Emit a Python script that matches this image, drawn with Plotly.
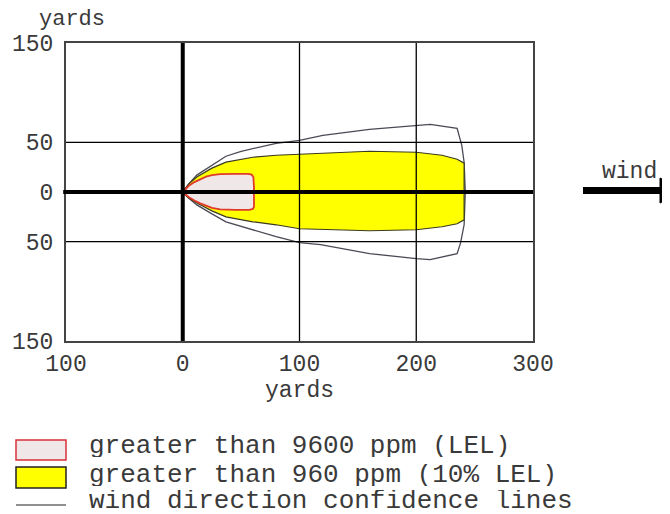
import plotly.graph_objects as go

# threat zone outlines (yards downwind / crosswind)
conf_x = [0, 5, 12, 25, 37, 50, 80, 100, 120, 160, 200, 212, 235, 239, 241, 242,
          241, 238, 235, 212, 200, 160, 118, 100, 80, 37, 25, 12, 5, 0]
conf_y = [0, 8, 17, 27, 36, 41, 49, 52, 57, 63, 67, 68, 64, 47, 30, 0,
          -33, -51, -62, -68, -67, -62, -53, -51, -45, -30, -22, -13, -6, 0]

yellow_x = [0, 5, 12, 25, 37, 60, 80, 100, 120, 160, 200, 222, 235, 241,
            241, 235, 222, 200, 160, 120, 100, 80, 60, 37, 25, 12, 5, 0]
yellow_y = [0, 8, 15, 24, 30, 35, 37, 38, 39, 41, 40, 37, 33, 29,
            -28, -32, -35, -38, -39, -37.5, -37, -33, -30, -25, -19, -11, -6, 0]

red_x = [0, 5, 10, 15, 20, 25, 32, 45, 56, 59, 60.5, 61,
         61, 60, 57, 45, 32, 25, 20, 15, 10, 5, 0]
red_y = [0, 6, 10, 13, 15.5, 17, 18, 18.3, 18.3, 17.5, 15, 5,
         -15, -17, -18, -18, -17.5, -16, -14, -11.5, -8.5, -5, 0]

x_ticks = [-100, 0, 100, 200, 300]
x_labels = ['100', '0', '100', '200', '300']
y_ticks = [150, 50, 0, -50, -150]
y_labels = ['150', '50', '0', '50', '150']

legend_labels = ['greater than 9600 ppm (LEL)',
                 'greater than 960 ppm (10% LEL)',
                 'wind direction confidence lines']

FONT = 'Liberation Mono, Courier New, monospace'
TXT = '#3a3a3a'

# page body adds an 8px margin, so the figure is placed 8px in from the corner
OFF = 8
W, H = 670 - OFF, 514 - OFF
# plot area in page pixels
L, T, PW, PH = 66, 43, 467, 298


def px_x(p):
    return (p - L) / PW


def px_y(p):
    return (T + PH - p) / PH


fig = go.Figure()

fig.add_trace(go.Scatter(
    x=conf_x, y=conf_y, mode='lines',
    line=dict(color='#4a4a55', width=1.3),
    hoverinfo='skip'
))

fig.add_trace(go.Scatter(
    x=yellow_x, y=yellow_y, mode='lines', fill='toself',
    fillcolor='#ffff00', line=dict(color='#3a3a20', width=1.2),
    hoverinfo='skip'
))

fig.add_trace(go.Scatter(
    x=red_x, y=red_y, mode='lines', fill='toself',
    fillcolor='#f0e8e8', line=dict(color='#e03a2a', width=1.8),
    hoverinfo='skip'
))

shapes = []
# inner grid lines, drawn over the zones
for v in x_ticks[1:-1]:
    if v == 0:
        continue
    shapes.append(dict(type='line', xref='x', yref='paper', x0=v, x1=v, y0=0, y1=1,
                       line=dict(color='black', width=1.3), layer='above'))
for v in y_ticks[1:-1]:
    if v == 0:
        continue
    shapes.append(dict(type='line', xref='paper', yref='y', x0=0, x1=1, y0=v, y1=v,
                       line=dict(color='black', width=1.3), layer='above'))
# heavy zero axes
shapes.append(dict(type='line', xref='x', yref='paper', x0=0, x1=0, y0=0, y1=1,
                   line=dict(color='black', width=4), layer='above'))
shapes.append(dict(type='line', xref='paper', yref='y', x0=-0.006, x1=1, y0=0, y1=0,
                   line=dict(color='black', width=4), layer='above'))

# legend swatches
shapes.append(dict(type='rect', xref='paper', yref='paper',
                   x0=px_x(16), x1=px_x(66), y0=px_y(460), y1=px_y(440),
                   fillcolor='#f0e8e8', line=dict(color='#d8303a', width=1.5)))
shapes.append(dict(type='rect', xref='paper', yref='paper',
                   x0=px_x(16), x1=px_x(66), y0=px_y(488), y1=px_y(467),
                   fillcolor='#ffff00', line=dict(color='#222222', width=1.5)))
shapes.append(dict(type='line', xref='paper', yref='paper',
                   x0=px_x(16), x1=px_x(66), y0=px_y(505), y1=px_y(505),
                   line=dict(color='#222222', width=1.2)))

# wind arrow
shapes.append(dict(type='line', xref='paper', yref='paper',
                   x0=px_x(583), x1=px_x(663), y0=px_y(190.5), y1=px_y(190.5),
                   line=dict(color='black', width=7)))
shapes.append(dict(type='path', xref='paper', yref='paper',
                   path=f'M {px_x(660)} {px_y(178)} L {px_x(660)} {px_y(203)} '
                        f'L {px_x(685)} {px_y(190.5)} Z',
                   fillcolor='black', line=dict(color='black', width=1)))

annotations = [
    dict(text='yards', xref='paper', yref='paper', x=px_x(72), y=px_y(20),
         showarrow=False, xanchor='center', yanchor='middle',
         font=dict(family=FONT, size=22, color=TXT)),
    dict(text='wind', xref='paper', yref='paper', x=px_x(629), y=px_y(172),
         showarrow=False, xanchor='center', yanchor='middle',
         font=dict(family=FONT, size=23, color=TXT)),
]
for label, yc in zip(legend_labels, [446, 475, 501]):
    annotations.append(dict(text=label, xref='paper', yref='paper',
                            x=px_x(88), y=px_y(yc), showarrow=False,
                            xanchor='left', yanchor='middle', borderpad=0,
                            height=22, valign='middle',
                            font=dict(family=FONT, size=26, color=TXT)))

fig.update_layout(
    width=W, height=H,
    margin=dict(l=L - OFF, r=W - (L - OFF) - PW, t=T - OFF, b=H - (T - OFF) - PH, pad=0),
    paper_bgcolor='white',
    plot_bgcolor='white',
    showlegend=False,
    shapes=shapes,
    annotations=annotations,
    font=dict(family=FONT, size=23, color=TXT),
)

fig.update_xaxes(
    range=[-100, 300], tickvals=x_ticks, ticktext=x_labels,
    showgrid=False, zeroline=False, automargin=False,
    showline=True, mirror=True, linecolor='#444444', linewidth=2,
    ticks='', ticklabelstandoff=0,
    title=dict(text='yards', standoff=0, font=dict(family=FONT, size=23, color=TXT)),
)
fig.update_yaxes(
    range=[-150, 150], tickvals=y_ticks, ticktext=y_labels,
    showgrid=False, zeroline=False, automargin=False,
    showline=True, mirror=True, linecolor='#444444', linewidth=2,
    ticks='inside', ticklen=4, tickcolor='#444444', ticklabelstandoff=6,
)

fig.write_html("out.html")
